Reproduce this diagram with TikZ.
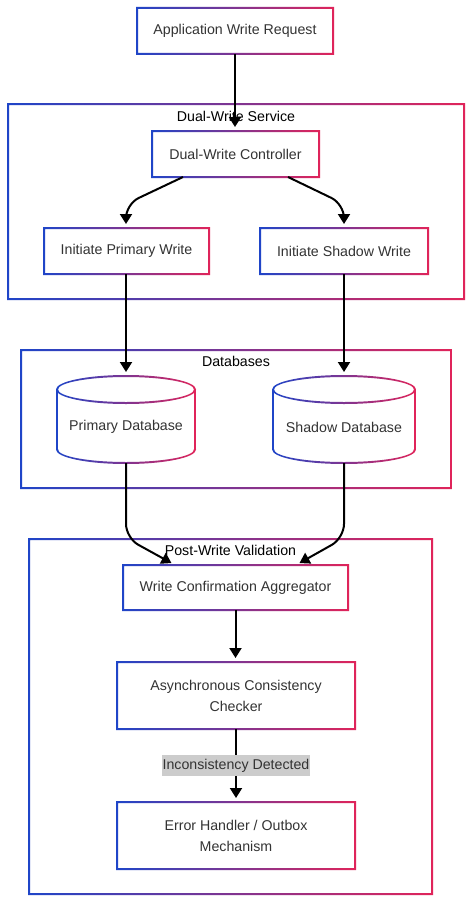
\documentclass[tikz,border=0pt]{standalone}
\usepackage{fontspec}
\setmainfont{Liberation Sans}
\usetikzlibrary{arrows.meta,calc}
\definecolor{gL}{HTML}{1F45C8}
\definecolor{gR}{HTML}{E0245A}
\definecolor{txt}{HTML}{333333}
\definecolor{lblgray}{HTML}{CCCCCC}
% gradient border around a named rectangular node
\newcommand\gborder[1]{\shade[left color=gL, right color=gR, even odd rule]
 ([shift={(-1pt,-1pt)}]#1.south west) rectangle ([shift={(1pt,1pt)}]#1.north east)
 ([shift={(1pt,1pt)}]#1.south west) rectangle ([shift={(-1pt,-1pt)}]#1.north east);}
% gradient cylinder: #1 cx, #2 top y, #3 rx, #4 bottom y (ry = 13.5)
\newcommand\gcyl[4]{%
 \fill[white] (#1-#3,#2+13.5) rectangle (#1+#3,#4-13.5);
 \fill[white] (#1,#2+13.5) ellipse[x radius=#3, y radius=13.5];
 \fill[white] (#1,#4-13.5) ellipse[x radius=#3, y radius=13.5];
 \shade[left color=gL, right color=gR, even odd rule]
   (#1,#2+13.5) ellipse[x radius=#3+1, y radius=14.5]
   (#1,#2+13.5) ellipse[x radius=#3-1, y radius=12.5];
 \begin{scope}
 \clip (#1-#3-3,#4-13.5) rectangle (#1+#3+3,#4+3);
 \shade[left color=gL, right color=gR, even odd rule]
   (#1,#4-13.5) ellipse[x radius=#3+1, y radius=14.5]
   (#1,#4-13.5) ellipse[x radius=#3-1, y radius=12.5];
 \end{scope}
 \fill[gL] (#1-#3-1,#2+13.5) rectangle (#1-#3+1,#4-13.5);
 \fill[gR] (#1+#3-1,#2+13.5) rectangle (#1+#3+1,#4-13.5);}
\begin{document}
\begin{tikzpicture}[x=1pt,y=-1pt,
  font=\fontsize{14.2}{21}\selectfont,
  box/.style={rectangle, inner sep=0pt, outer sep=0pt, fill=white, text=txt, align=center},
  cluster/.style={rectangle, inner sep=0pt, outer sep=0pt, fill=white},
  clabel/.style={text=black, inner sep=0pt},
  arr/.style={line width=2pt, draw=black, shorten >=4pt, -{Triangle[width=12pt,length=10pt]}},
  lbl/.style={fill=lblgray, text=txt, inner xsep=1pt, inner ysep=3.5pt, text height=10.5pt, text depth=3pt},
  ]
\useasboundingbox (0,0) rectangle (474,907);
\fill[white] (0,0) rectangle (474,907);

% clusters
\node[cluster, minimum width=456pt, minimum height=195pt] (svc) at (236,201.5) {};
\gborder{svc}
\node[clabel] (svclab) at (236,116) {Dual-Write Service};
\node[cluster, minimum width=430pt, minimum height=138pt] (dbs) at (236,419) {};
\gborder{dbs}
\node[clabel] (dbslab) at (236,361) {Databases};
\node[cluster, minimum width=403pt, minimum height=355pt] (val) at (230.5,716.5) {};
\gborder{val}
\node[clabel] (vallab) at (230.5,550) {Post-Write Validation};

% nodes
\node[box, minimum width=196pt, minimum height=46pt] (app) at (235,31) {Application Write Request};
\gborder{app}
\node[box, minimum width=167pt, minimum height=46pt] (ctrl) at (235.5,154) {Dual-Write Controller};
\gborder{ctrl}
\node[box, minimum width=165pt, minimum height=46pt] (pw) at (126.5,251) {Initiate Primary Write};
\gborder{pw}
\node[box, minimum width=168pt, minimum height=46pt] (sw) at (344,251) {Initiate Shadow Write};
\gborder{sw}

\gcyl{126}{376}{69}{463}
\node[inner sep=0pt, outer sep=0pt, minimum width=138pt, minimum height=87pt] (pdb) at (126,419.5) {};
\node[text=txt, inner sep=0pt] (pdbt) at (126,427) {Primary Database};
\gcyl{344}{376}{71}{463}
\node[inner sep=0pt, outer sep=0pt, minimum width=142pt, minimum height=87pt] (sdb) at (344,419.5) {};
\node[text=txt, inner sep=0pt] (sdbt) at (344,427) {Shadow Database};

\node[box, minimum width=225pt, minimum height=45pt] (agg) at (235.5,587.5) {Write Confirmation Aggregator};
\gborder{agg}
\node[box, minimum width=238pt, minimum height=67pt] (chk) at (236,695.5) {Asynchronous Consistency\\Checker};
\gborder{chk}
\node[box, minimum width=238pt, minimum height=67pt] (err) at (236,835.5) {Error Handler / Outbox\\Mechanism};
\gborder{err}

% connectors
\draw[arr] (app.south) -- (app.south |- ctrl.north);
\draw[arr, rounded corners=14pt] ([xshift=-52.5pt]ctrl.south) -- ($(pw.north)+(-0.5,-24)$) -- ([xshift=-0.5pt]pw.north);
\draw[arr, rounded corners=14pt] ([xshift=52.5pt]ctrl.south) -- ($(sw.north)+(0,-24)$) -- (sw.north);
\draw[arr] ([xshift=-0.5pt]pw.south) -- (pw.south -| pdb.north) -- (pdb.north);
\draw[arr] (sw.south) -- (sdb.north);
\draw[arr, rounded corners=14pt] (pdb.south) -- ($(pdb.south)+(0,75)$) -- ([xshift=-60.5pt]agg.north);
\draw[arr, rounded corners=14pt] (sdb.south) -- ($(sdb.south)+(0,75)$) -- ([xshift=60.5pt]agg.north);
\draw[arr] (agg.south) -- (agg.south |- chk.north);
\draw[arr] (chk.south) -- node[lbl] (lab) {Inconsistency Detected} (err.north);
\end{tikzpicture}
\end{document}
